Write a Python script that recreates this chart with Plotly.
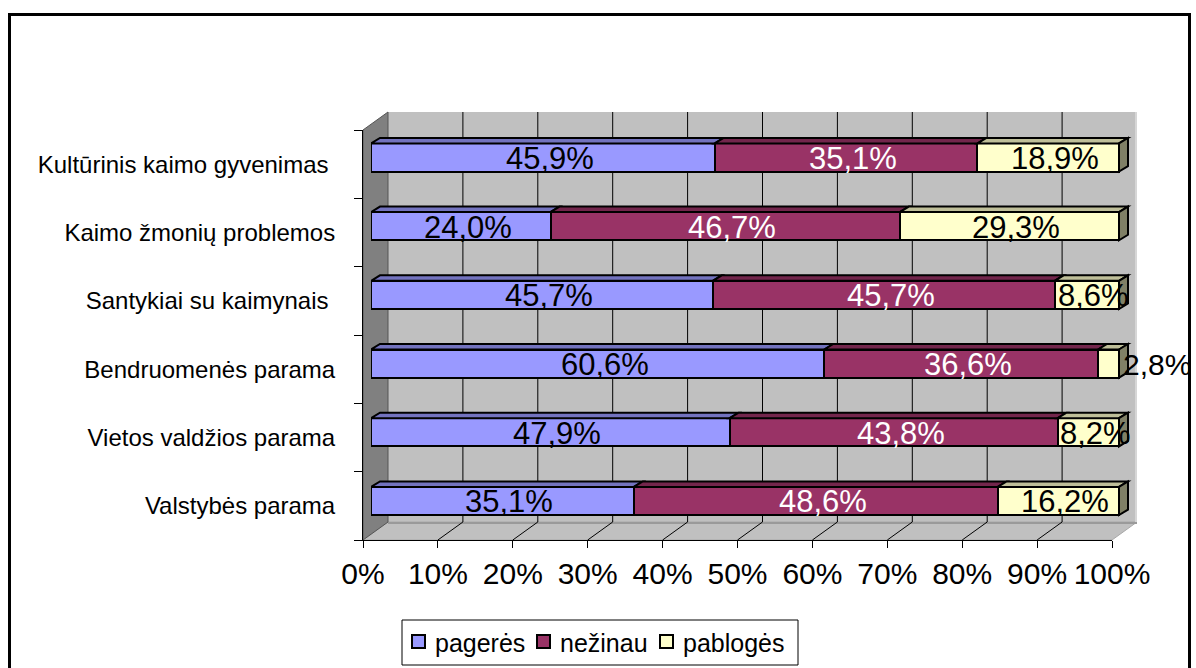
import plotly.graph_objects as go

# ---------------- data (bottom row first) ----------------
categories = ["Valstybės parama", "Vietos valdžios parama", "Bendruomenės parama",
              "Santykiai su kaimynais ", "Kaimo žmonių problemos", "Kultūrinis kaimo gyvenimas "]
series_names = ["pagerės", "nežinau", "pablogės"]
pageres = [35.1, 47.9, 60.6, 45.7, 24.0, 45.9]
nezinau = [48.6, 43.8, 36.6, 45.7, 46.7, 35.1]
pabloges = [16.2, 8.2, 2.8, 8.6, 29.3, 18.9]
x_ticks = [0, 10, 20, 30, 40, 50, 60, 70, 80, 90, 100]

# ---------------- styling ----------------
W, H = 1196, 668
FONT = "Liberation Sans, Arial, sans-serif"
face_colors = ["#9999FF", "#993366", "#FFFFCC"]
top_colors = ["#7373BF", "#73264C", "#BFBF99"]
side_colors = ["#4D4D80", "#4D1A33", "#808066"]
label_colors = ["black", "white", "black"]

# bar axis geometry (pixels)
BX0, BX1 = 371, 1119          # 0% and 100% of the bars
BSTEP = 68.7                  # px per category
BY0 = 501                     # px centre of first category
BAR_W = 0.41
DDX, DDY = 1.2, 0.08          # bar depth in data units

# front axis / walls geometry (pixels)
FX0, FX1 = 363, 1112
FY_BOT, FY_TOP = 540, 130
DXP, DYP = 25, 18             # wall depth in px

# legend box geometry (pixels)
LEG_BOX = (402, 620, 798, 665)
LEG_SQ_X = [412, 537, 660]
LEG_SQ = 13


def pxx(p):
    return p / W


def pxy(p):
    return 1 - p / H


def frontx(v):
    return FX0 + (FX1 - FX0) * v / 100.0


series = [pageres, nezinau, pabloges]
ypos = list(range(len(categories)))
totals = [sum(s[i] for s in series) for i in ypos]

fig = go.Figure()
for j, (name, vals) in enumerate(zip(series_names, series)):
    fig.add_trace(go.Bar(
        name=name, y=ypos, x=vals, orientation="h", width=BAR_W,
        marker=dict(color=face_colors[j], line=dict(color="black", width=2)),
        hoverinfo="skip", xaxis="x", yaxis="y", showlegend=False))

# dummy trace carrying the category axis
fig.add_trace(go.Scatter(x=[0] * len(categories), y=categories, mode="markers",
                         marker=dict(opacity=0), hoverinfo="skip", showlegend=False,
                         xaxis="x2", yaxis="y2"))

shapes = []
# back wall
shapes.append(dict(type="rect", xref="paper", yref="paper", layer="below",
                   x0=pxx(frontx(0) + DXP), x1=pxx(frontx(100) + DXP),
                   y0=pxy(FY_BOT - DYP), y1=pxy(FY_TOP - DYP),
                   fillcolor="#C0C0C0", line=dict(width=0)))
# floor
fl = [(frontx(0), FY_BOT), (frontx(100), FY_BOT), (frontx(100) + DXP, FY_BOT - DYP),
      (frontx(0) + DXP, FY_BOT - DYP)]
shapes.append(dict(type="path", xref="paper", yref="paper", layer="below",
                   path="M " + " L ".join(f"{pxx(a)},{pxy(b)}" for a, b in fl) + " Z",
                   fillcolor="#C0C0C0", line=dict(color="#A8A8A8", width=1)))
# wall bottom edge band
shapes.append(dict(type="line", xref="paper", yref="paper", layer="below",
                   x0=pxx(frontx(0) + DXP), x1=pxx(frontx(100) + DXP),
                   y0=pxy(FY_BOT - DYP + 1), y1=pxy(FY_BOT - DYP + 1),
                   line=dict(color="#9A9A9A", width=2)))
# right edge highlight
shapes.append(dict(type="line", xref="paper", yref="paper", layer="below",
                   x0=pxx(frontx(100) + DXP - 1), x1=pxx(frontx(100) + DXP - 1),
                   y0=pxy(FY_BOT - DYP), y1=pxy(FY_TOP - DYP),
                   line=dict(color="#D6D6D6", width=2)))
# left wall
lw = [(frontx(0), FY_BOT), (frontx(0) + DXP, FY_BOT - DYP), (frontx(0) + DXP, FY_TOP - DYP),
      (frontx(0), FY_TOP)]
shapes.append(dict(type="path", xref="paper", yref="paper", layer="below",
                   path="M " + " L ".join(f"{pxx(a)},{pxy(b)}" for a, b in lw) + " Z",
                   fillcolor="#808080", line=dict(color="#555555", width=1)))
# gridlines on wall and floor
for v in x_ticks[1:-1]:
    shapes.append(dict(type="line", xref="paper", yref="paper", layer="below",
                       x0=pxx(frontx(v) + DXP), x1=pxx(frontx(v) + DXP),
                       y0=pxy(FY_BOT - DYP), y1=pxy(FY_TOP - DYP),
                       line=dict(color="black", width=1)))
    shapes.append(dict(type="line", xref="paper", yref="paper", layer="below",
                       x0=pxx(frontx(v)), x1=pxx(frontx(v) + DXP),
                       y0=pxy(FY_BOT), y1=pxy(FY_BOT - DYP),
                       line=dict(color="black", width=1)))

# 3D top faces / side faces of bars, and value labels
annotations = []
for i in ypos:
    cum = 0.0
    yt = i + BAR_W / 2
    yb = i - BAR_W / 2
    for j, vals in enumerate(series):
        v = vals[i] / totals[i] * 100
        x0, x1 = cum, cum + v
        shapes.append(dict(type="path", xref="x", yref="y", layer="above",
                           path=f"M {x0},{yt} L {x1},{yt} L {x1 + DDX},{yt + DDY} L {x0 + DDX},{yt + DDY} Z",
                           fillcolor=top_colors[j], line=dict(color="black", width=2)))
        if j == len(series) - 1:
            shapes.append(dict(type="path", xref="x", yref="y", layer="above",
                               path=f"M {x1},{yt} L {x1 + DDX},{yt + DDY} L {x1 + DDX},{yb + DDY} L {x1},{yb} Z",
                               fillcolor=side_colors[j], line=dict(color="black", width=2)))
        txt = f"{vals[i]:.1f}%".replace(".", ",")
        if vals[i] < 5:
            annotations.append(dict(x=x1, y=i, xref="x", yref="y", text=txt, showarrow=False,
                                    xanchor="left", yanchor="middle", xshift=3, yshift=-1,
                                    borderpad=0,
                                    font=dict(family=FONT, size=30, color=label_colors[j])))
        else:
            annotations.append(dict(x=(x0 + x1) / 2, y=i, xref="x", yref="y", text=txt,
                                    showarrow=False, xanchor="center", yanchor="middle",
                                    xshift=7, yshift=-1,
                                    font=dict(family=FONT, size=31, color=label_colors[j])))
        cum = x1

# manual legend
lx0, ly0, lx1, ly1 = LEG_BOX
shapes.append(dict(type="rect", xref="paper", yref="paper", layer="above",
                   x0=pxx(lx0), x1=pxx(lx1), y0=pxy(ly1), y1=pxy(ly0),
                   fillcolor="white", line=dict(color="black", width=1)))
lyc = (ly0 + ly1) / 2 - 1
for j, name in enumerate(series_names):
    sx = LEG_SQ_X[j]
    shapes.append(dict(type="rect", xref="paper", yref="paper", layer="above",
                       x0=pxx(sx), x1=pxx(sx + LEG_SQ),
                       y0=pxy(lyc + LEG_SQ / 2), y1=pxy(lyc - LEG_SQ / 2),
                       fillcolor=face_colors[j], line=dict(color="black", width=2)))
    annotations.append(dict(x=pxx(sx + LEG_SQ + 9), y=pxy(lyc + 1), xref="paper", yref="paper",
                            text=name, showarrow=False, xanchor="left", yanchor="middle",
                            borderpad=0, font=dict(family=FONT, size=25, color="black")))

# outer frame (left, top and right sides; bottom runs off the page)
fx0, fx1, fy1 = pxx(9.5), pxx(1189.5), pxy(14.5)
shapes.append(dict(type="path", xref="paper", yref="paper", layer="above",
                   path=f"M {fx0},0 L {fx0},{fy1} L {fx1},{fy1} L {fx1},0",
                   line=dict(color="black", width=3)))

XR1 = 102
YR1 = 5.7
fig.update_layout(
    width=W, height=H,
    margin=dict(l=0, r=0, t=0, b=0, autoexpand=False),
    paper_bgcolor="white", plot_bgcolor="rgba(0,0,0,0)",
    barmode="stack", barnorm="percent",
    font=dict(family=FONT, color="black"),
    shapes=shapes, annotations=annotations,
    showlegend=False,
    xaxis=dict(domain=[pxx(BX0), pxx(BX0 + (BX1 - BX0) * XR1 / 100)], range=[0, XR1],
               visible=False, anchor="y", fixedrange=True),
    yaxis=dict(domain=[pxy(BY0 + 0.5 * BSTEP), pxy(BY0 - YR1 * BSTEP)], range=[-0.5, YR1],
               visible=False, anchor="x", fixedrange=True),
    xaxis2=dict(domain=[pxx(FX0), pxx(FX1)], range=[0, 100], anchor="y2",
                tickmode="array", tickvals=x_ticks, ticktext=[f"{t}%" for t in x_ticks],
                ticks="outside", ticklen=7, tickcolor="black", tickwidth=1,
                showline=True, linecolor="black", linewidth=1,
                showgrid=False, zeroline=False, tickfont=dict(size=30, family=FONT),
                fixedrange=True, automargin=False),
    yaxis2=dict(domain=[pxy(FY_BOT), pxy(FY_TOP)], range=[-0.5, len(categories) - 0.5],
                anchor="x2", type="category", categoryorder="array", categoryarray=categories,
                tickson="boundaries", ticks="outside", ticklen=8, tickcolor="black",
                showline=True, linecolor="black", linewidth=1, showgrid=False,
                ticklabelstandoff=22,
                tickfont=dict(size=24, family=FONT), fixedrange=True, automargin=False),
)

post = ("document.documentElement.style.margin='0';"
        "document.documentElement.style.overflow='hidden';"
        "document.body.style.margin='0';document.body.style.padding='0';"
        "document.body.style.overflow='hidden';"
        "var gd=document.getElementById('{plot_id}');"
        "gd.style.overflow='hidden';"
        "gd.querySelectorAll('svg').forEach(function(s){s.style.overflow='hidden';});")
fig.write_html("out.html", post_script=post, config={"displayModeBar": False})
